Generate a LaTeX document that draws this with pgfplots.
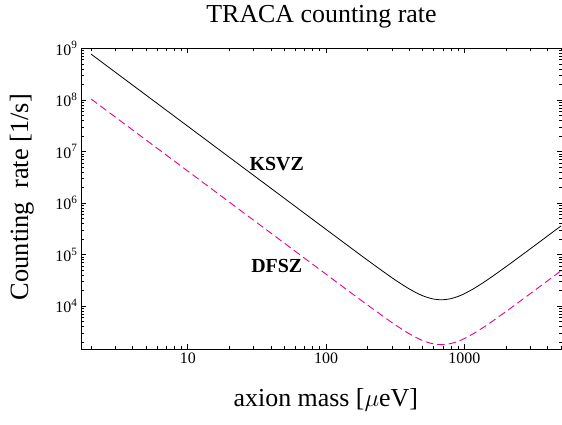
\documentclass[border=0pt]{standalone}
\usepackage{fontspec}
\setmainfont{Liberation Serif}
\usepackage{pgfplots}
\pgfplotsset{compat=1.18}

\begin{document}
\begin{tikzpicture}
\begin{axis}[
    name=ax,
    xmode=log, ymode=log,
    scale only axis,
    width=481bp, height=300.7bp,
    xmin=1.69, xmax=5080,
    ymin=1480, ymax=1e9,
    axis line style={black, line width=0.7pt},
    tick style={black, line width=0.6pt},
    major tick length=5bp,
    minor tick length=2.6bp,
    xtick={10,100,1000},
    xticklabels={10,100,1000},
    minor xtick={2,3,4,5,6,7,8,9,20,30,40,50,60,70,80,90,200,300,400,500,600,700,800,900,2000,3000,4000,5000},
    ytick={1e4,1e5,1e6,1e7,1e8,1e9},
    yticklabels={10\textsuperscript{4},10\textsuperscript{5},10\textsuperscript{6},10\textsuperscript{7},10\textsuperscript{8},10\textsuperscript{9}},
    minor ytick={2e3,3e3,4e3,5e3,6e3,7e3,8e3,9e3,
                 2e4,3e4,4e4,5e4,6e4,7e4,8e4,9e4,
                 2e5,3e5,4e5,5e5,6e5,7e5,8e5,9e5,
                 2e6,3e6,4e6,5e6,6e6,7e6,8e6,9e6,
                 2e7,3e7,4e7,5e7,6e7,7e7,8e7,9e7,
                 2e8,3e8,4e8,5e8,6e8,7e8,8e8,9e8},
    tick label style={font=\fontsize{16}{18}\selectfont},
    every axis title shift=0pt,
    title={TRACA counting rate},
    title style={font=\fontsize{26}{30}\selectfont, at={(axis description cs:0.5,1.105)}, anchor=center},
    xlabel={axion mass [$\mu$eV]},
    xlabel style={font=\fontsize{26}{30}\selectfont, at={(axis description cs:0.509,-0.17)}, anchor=center},
    ylabel={Counting~ rate [1/s]},
    ylabel style={font=\fontsize{26.5}{30}\selectfont, at={(axis description cs:-0.1233,0.505)}, anchor=center},
]
% KSVZ
\addplot[black, line width=0.8pt, smooth] coordinates {
    (2, 7.70e8) (3, 3.422e8) (5, 1.232e8) (10, 3.08e7) (20, 7.70e6)
    (50, 1.232e6) (100, 308144) (150, 137213) (200, 77576) (300, 35518)
    (400, 21554) (500, 15920) (600, 13740) (700, 13342) (800, 14029)
    (900, 15466) (1000, 17480) (1200, 22875) (1500, 33769) (2000, 58370)
    (2500, 90493) (3000, 129942) (4000, 230593) (5000, 360123)
};
% DFSZ
\addplot[magenta, line width=0.9pt, dash pattern=on 7.5bp off 4bp, smooth] coordinates {
    (2, 1.0405e8) (3, 4.624e7) (5, 1.665e7) (10, 4.162e6) (20, 1.0405e6)
    (50, 1.665e5) (100, 41641) (150, 18542) (200, 10483) (300, 4800)
    (400, 2913) (500, 2151) (600, 1857) (700, 1803) (800, 1896)
    (900, 2090) (1000, 2362) (1200, 3091) (1500, 4563) (2000, 7888)
    (2500, 12229) (3000, 17560) (4000, 31161) (5000, 48665)
};
\node[font=\fontsize{20}{22}\selectfont\bfseries] at (axis cs:44,5.8e6) {KSVZ};
\node[font=\fontsize{20}{22}\selectfont\bfseries] at (axis cs:44,5.9e4) {DFSZ};
\end{axis}
\pgfresetboundingbox
\path[use as bounding box] ([xshift=-81bp,yshift=-75bp]ax.south west) rectangle ([yshift=48.3bp]ax.north east);
\end{tikzpicture}
\end{document}
